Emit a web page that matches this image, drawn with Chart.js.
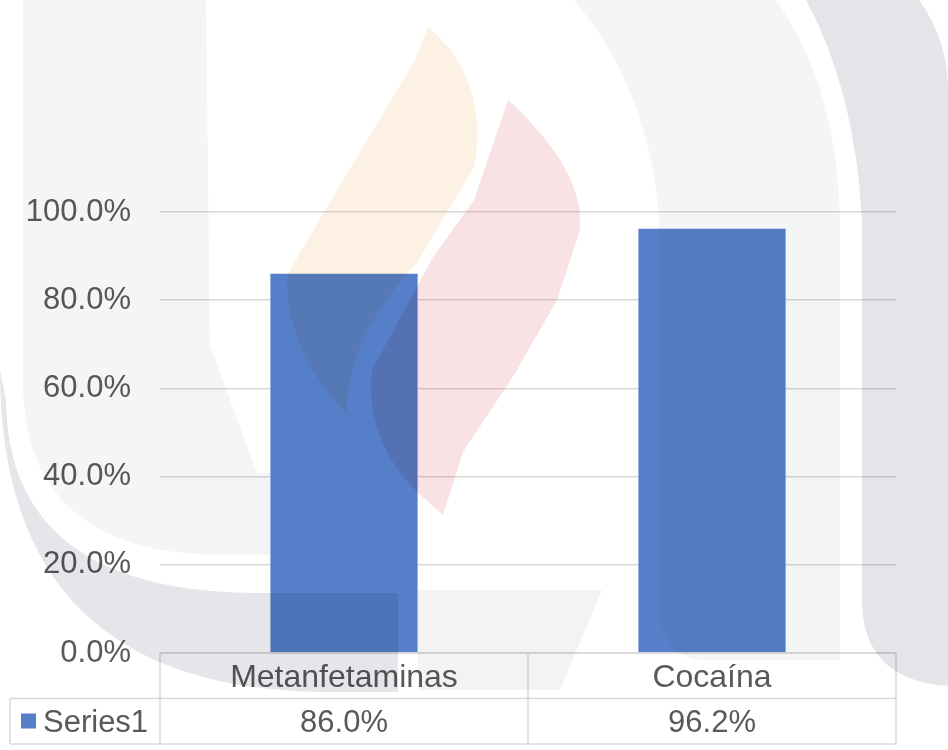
<!DOCTYPE html>
<html>
<head>
<meta charset="utf-8">
<script src="https://cdn.jsdelivr.net/npm/chart.js@4/dist/chart.umd.min.js"></script>
<style>
  html, body { margin: 0; padding: 0; background: #ffffff; }
  #chart { display: block; }
</style>
</head>
<body>
<canvas id="chart" width="948" height="750"></canvas>
<script>
const categories = ['Metanfetaminas', 'Cocaína'];
const seriesName = 'Series1';
const seriesValues = [86.0, 96.2];
const yTicks = [0, 20, 40, 60, 80, 100];

const barColor = '#5580c9';
const textColor = '#595959';
const lineColor = '#d9d9d9';
const fontFamily = '"Liberation Sans", Arial, sans-serif';

const formatPct = (v) => v.toFixed(1) + '%';

// data table under the plot (category row + series row)
const dataTablePlugin = {
  id: 'dataTable',
  afterDatasetsDraw(chart) {
    const { ctx, chartArea, scales } = chart;
    const x = scales.x;
    const top = chartArea.bottom;
    const rowH = 45.5;
    const mid = top + rowH;
    const bottom = mid + rowH;
    const legendLeft = 10;

    const edges = [chartArea.left];
    for (let i = 0; i < categories.length - 1; i++) {
      edges.push((x.getPixelForValue(i) + x.getPixelForValue(i + 1)) / 2);
    }
    edges.push(chartArea.right);

    ctx.save();
    ctx.strokeStyle = lineColor;
    ctx.lineWidth = 1.5;
    ctx.beginPath();
    ctx.moveTo(chartArea.left, top);
    ctx.lineTo(chartArea.right, top);
    ctx.moveTo(legendLeft, mid);
    ctx.lineTo(chartArea.right, mid);
    ctx.moveTo(legendLeft, bottom);
    ctx.lineTo(chartArea.right, bottom);
    ctx.moveTo(legendLeft, mid);
    ctx.lineTo(legendLeft, bottom);
    edges.forEach((ex) => {
      ctx.moveTo(ex, top);
      ctx.lineTo(ex, bottom);
    });
    ctx.stroke();

    ctx.fillStyle = textColor;
    ctx.textAlign = 'center';
    ctx.textBaseline = 'alphabetic';
    ctx.font = '32px ' + fontFamily;
    categories.forEach((c, i) => {
      ctx.fillText(c, x.getPixelForValue(i), top + 34);
    });

    ctx.font = '31px ' + fontFamily;
    seriesValues.forEach((v, i) => {
      ctx.fillText(formatPct(v), x.getPixelForValue(i), mid + 33);
    });

    ctx.fillStyle = barColor;
    ctx.fillRect(21, mid + 15, 15, 15);
    ctx.fillStyle = textColor;
    ctx.textAlign = 'left';
    ctx.fillText(seriesName, 43, mid + 33);
    ctx.restore();
  }
};

// faint logo watermark that sits over the whole picture
const watermarkPlugin = {
  id: 'watermark',
  afterDraw(chart) {
    const ctx = chart.ctx;
    const shape = (color, draw) => {
      ctx.fillStyle = color;
      ctx.beginPath();
      draw();
      ctx.closePath();
      ctx.fill();
    };
    ctx.save();
    ctx.globalCompositeOperation = 'multiply';

    // left light band
    shape('#f4f5f7', () => {
      ctx.moveTo(23, 0);
      ctx.lineTo(206, 0);
      ctx.lineTo(210, 345);
      ctx.lineTo(257, 473);
      ctx.lineTo(270, 473);
      ctx.lineTo(270, 555);
      ctx.lineTo(225, 555);
      ctx.quadraticCurveTo(23, 555, 23, 380);
    });
    // bottom-left darker crescent
    shape('#e6e5ea', () => {
      ctx.moveTo(0, 370);
      ctx.quadraticCurveTo(0, 692, 330, 692);
      ctx.lineTo(398, 692);
      ctx.lineTo(398, 593);
      ctx.lineTo(260, 593);
      ctx.quadraticCurveTo(8, 593, 6, 400);
    });
    // light patch right of the first bar
    shape('#f3f3f5', () => {
      ctx.moveTo(418, 590);
      ctx.lineTo(602, 590);
      ctx.lineTo(560, 690);
      ctx.lineTo(418, 690);
    });
    // right light band
    shape('#f4f5f7', () => {
      ctx.moveTo(574, 0);
      ctx.lineTo(776, 0);
      ctx.quadraticCurveTo(840, 90, 840, 230);
      ctx.lineTo(840, 660);
      ctx.lineTo(700, 660);
      ctx.quadraticCurveTo(659, 655, 659, 600);
      ctx.lineTo(659, 220);
      ctx.quadraticCurveTo(650, 90, 574, 0);
    });
    // right darker band
    shape('#e5e4e9', () => {
      ctx.moveTo(806, 0);
      ctx.lineTo(919, 0);
      ctx.quadraticCurveTo(948, 40, 948, 90);
      ctx.lineTo(948, 686);
      ctx.quadraticCurveTo(862, 680, 862, 600);
      ctx.lineTo(862, 220);
      ctx.quadraticCurveTo(855, 90, 806, 0);
    });
    // orange flame
    shape('#fdf1e4', () => {
      ctx.moveTo(428, 27);
      ctx.quadraticCurveTo(490, 80, 474, 167);
      ctx.lineTo(417, 263);
      ctx.quadraticCurveTo(345, 340, 347, 415);
      ctx.quadraticCurveTo(285, 350, 287, 275);
      ctx.lineTo(333, 197);
      ctx.lineTo(415, 60);
    });
    // pink flame
    shape('#f8e2e3', () => {
      ctx.moveTo(508, 100);
      ctx.quadraticCurveTo(585, 170, 580, 230);
      ctx.lineTo(557, 300);
      ctx.lineTo(514, 375);
      ctx.lineTo(463, 452);
      ctx.lineTo(443, 515);
      ctx.lineTo(417, 492);
      ctx.quadraticCurveTo(365, 440, 372, 370);
      ctx.lineTo(433, 257);
      ctx.lineTo(474, 200);
    });
    ctx.restore();
  }
};

new Chart(document.getElementById('chart'), {
  type: 'bar',
  data: {
    labels: categories,
    datasets: [{
      label: seriesName,
      data: seriesValues,
      backgroundColor: barColor,
      borderWidth: 0,
      barPercentage: 0.4,
      categoryPercentage: 1.0,
    }],
  },
  options: {
    responsive: false,
    animation: false,
    layout: {
      padding: { top: 212, right: 52, bottom: 6, left: 0 },
    },
    plugins: {
      legend: { display: false },
      tooltip: { enabled: false },
    },
    scales: {
      x: {
        grid: { display: false },
        border: { display: false },
        ticks: { display: false },
        afterFit: (scale) => { scale.height = 91; },
      },
      y: {
        min: yTicks[0],
        max: yTicks[yTicks.length - 1],
        afterBuildTicks: (scale) => {
          scale.ticks = yTicks.map((v) => ({ value: v }));
        },
        ticks: {
          callback: (v) => formatPct(v),
          color: textColor,
          font: { family: fontFamily, size: 31 },
          padding: 29,
        },
        grid: { color: lineColor, lineWidth: 1.5, drawTicks: false },
        border: { display: false },
        afterFit: (scale) => { scale.width = 160; },
      },
    },
  },
  plugins: [dataTablePlugin, watermarkPlugin],
});
</script>
</body>
</html>
